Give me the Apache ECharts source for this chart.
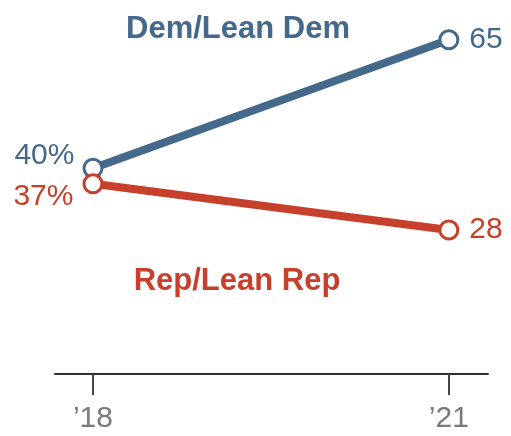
<!DOCTYPE html>
<html><head><meta charset="utf-8">
<script src="https://cdn.jsdelivr.net/npm/echarts@6/dist/echarts.min.js"></script>
<style>html,body{margin:0;padding:0;background:#fff}#c{width:511px;height:436px}</style>
</head><body><div id="c"></div>
<script>
var years = [2018, 2021];
var yearLabels = ["\u201918", "\u201921"];
var demValues = [40, 65];
var repValues = [37, 28];
var demName = "Dem/Lean Dem";
var repName = "Rep/Lean Rep";
var BLUE = "#45698a", RED = "#c7402c";
var FONT = "'Liberation Sans', Arial, sans-serif";

var chart = echarts.init(document.getElementById('c'), null, {renderer:'canvas'});
function pts(vals){ return vals.map(function(v,i){ return [years[i], v]; }); }
var demData = pts(demValues), repData = pts(repValues);
demData[0] = {value: demData[0], label:{show:true, position:'left', distance:8, offset:[0,-13], formatter: demValues[0]+'%'}};
demData[1] = {value: demData[1], label:{show:true, position:'right', distance:10, offset:[0,0], formatter: ''+demValues[1]}};
repData[0] = {value: repData[0], label:{show:true, position:'left', distance:8, offset:[-1,13], formatter: repValues[0]+'%'}};
repData[1] = {value: repData[1], label:{show:true, position:'right', distance:10, offset:[0,0], formatter: ''+repValues[1]}};

chart.setOption({
  animation:false,
  title:[
    {text: demName, left: 233, top: 9, textAlign:'center', textStyle:{color:BLUE, fontFamily:FONT, fontSize:31, fontWeight:'bold'}},
    {text: repName, left: 232, top: 261, textAlign:'center', textStyle:{color:RED, fontFamily:FONT, fontSize:31, fontWeight:'bold'}}
  ],
  grid:{left:55, right:23, top:14, bottom:62, containLabel:false},
  xAxis:{type:'value', min:2017.68, max:2021.33,
    axisLine:{show:true, lineStyle:{color:'#333', width:2}},
    axisTick:{show:true, length:21, customValues: years, lineStyle:{color:'#444', width:2}},
    axisLabel:{show:true, customValues: years, margin:30, color:'#7a7a7a', fontSize:30, fontFamily:FONT,
      formatter:function(v){ var i = years.indexOf(Math.round(v)); return i>=0 ? yearLabels[i] : ''; }},
    splitLine:{show:false}},
  yAxis:{type:'value', min:0, max:70, show:false, splitLine:{show:false}},
  series:[
    {name:demName, type:'line', data:demData, symbol:'circle', symbolSize:18,
      lineStyle:{color:BLUE, width:8}, itemStyle:{color:'#fff', borderColor:BLUE, borderWidth:3},
      label:{color:BLUE, fontSize:30, fontFamily:FONT}, z:2},
    {name:repName, type:'line', data:repData, symbol:'circle', symbolSize:18,
      lineStyle:{color:RED, width:8}, itemStyle:{color:'#fff', borderColor:RED, borderWidth:3},
      label:{color:RED, fontSize:30, fontFamily:FONT}, z:3}
  ]
});
</script></body></html>
